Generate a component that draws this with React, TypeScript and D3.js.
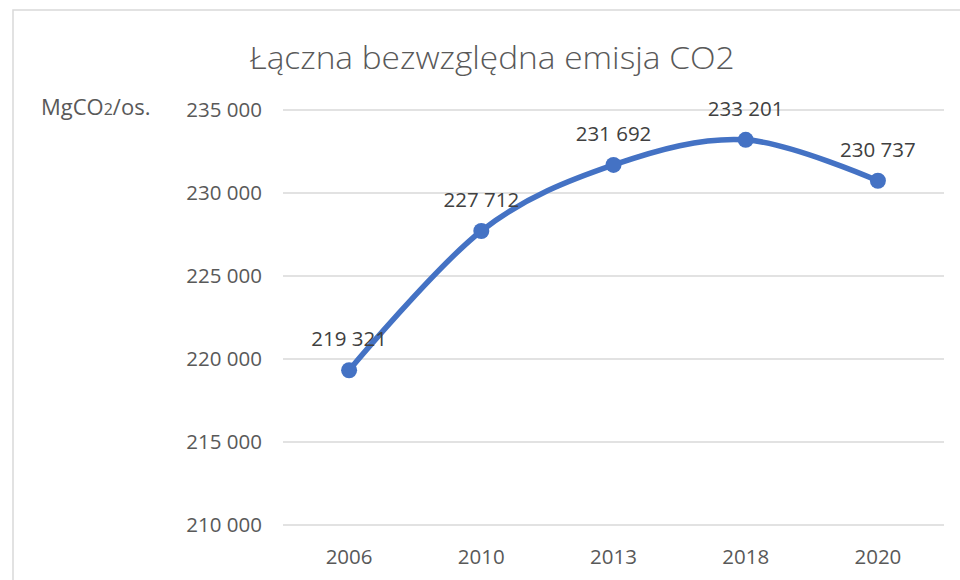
import React from 'react'
import * as d3 from 'd3'

// Chart data
const years = ['2006', '2010', '2013', '2018', '2020']
const emissions = [219321, 227712, 231692, 233201, 230737]
const yTicks = [210000, 215000, 220000, 225000, 230000, 235000]

const W = 960
const H = 580
const margin = { top: 110, right: 16, bottom: 55, left: 283 }
const FONT = '"Open Sans", "Noto Sans", sans-serif'
const LABEL_SIZE = 20.5

const fmt = (v: number) => d3.format(',')(v).replace(/,/g, ' ')

const App = () => {
  const x = d3.scalePoint<string>()
    .domain(years)
    .range([margin.left, W - margin.right])
    .padding(0.5)

  const y = d3.scaleLinear()
    .domain([210000, 235000])
    .range([H - margin.bottom, margin.top])

  // Excel-style smoothed line
  const line = d3.line<number>()
    .x((_, i) => x(years[i]) as number)
    .y(d => y(d))
    .curve(d3.curveCardinal.tension(0))

  return (
    <svg
      width={W}
      height={H}
      style={{ position: 'absolute', left: 0, top: 0, background: '#fff' }}
    >
      {/* chart area border */}
      <rect x={13} y={10} width={W} height={H} fill="#fff" stroke="#d9d9d9" strokeWidth={1.5} />

      <text
        x={492}
        y={69}
        textAnchor="middle"
        fontFamily={FONT}
        fontSize={31}
        fontWeight={300}
        fill="#595959"
        textLength={485}
        lengthAdjust="spacingAndGlyphs"
      >
        Łączna bezwzględna emisja CO2
      </text>

      <text x={41} y={115} fontFamily={FONT} fontSize={22} fill="#595959">
        MgCO<tspan fontSize={16}>2</tspan>/os.
      </text>

      {/* gridlines + y labels */}
      {yTicks.map(t => (
        <g key={t}>
          <line x1={margin.left} x2={W - margin.right} y1={y(t)} y2={y(t)} stroke="#d9d9d9" strokeWidth={1.5} />
          <text
            x={262}
            y={y(t)}
            dy="0.35em"
            textAnchor="end"
            fontFamily={FONT}
            fontSize={LABEL_SIZE}
            fill="#595959"
          >
            {fmt(t)}
          </text>
        </g>
      ))}

      {/* x labels */}
      {years.map(yr => (
        <text
          key={yr}
          x={x(yr)}
          y={564}
          textAnchor="middle"
          fontFamily={FONT}
          fontSize={LABEL_SIZE}
          fill="#595959"
        >
          {yr}
        </text>
      ))}

      <path d={line(emissions) || ''} fill="none" stroke="#4472c4" strokeWidth={5.5} strokeLinecap="round" />

      {emissions.map((v, i) => (
        <g key={years[i]}>
          <circle cx={x(years[i])} cy={y(v)} r={8} fill="#4472c4" />
          <text
            x={x(years[i])}
            y={y(v) - 24}
            textAnchor="middle"
            fontFamily={FONT}
            fontSize={LABEL_SIZE}
            fill="#404040"
          >
            {fmt(v)}
          </text>
        </g>
      ))}
    </svg>
  )
}

export default App
